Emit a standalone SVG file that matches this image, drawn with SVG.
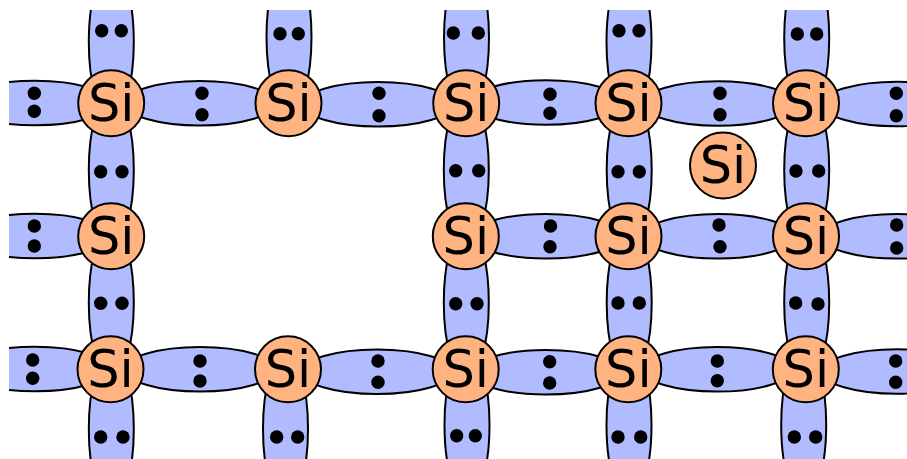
<svg xmlns="http://www.w3.org/2000/svg" width="907" height="459" viewBox="0 0 907 459">
<style>
.b{fill:#b0bcff;stroke:#000;stroke-width:2}
.a circle{fill:#ffb380;stroke:#000;stroke-width:2}
.a text{font-family:"DejaVu Sans",sans-serif;font-size:51px;text-anchor:middle;fill:#000}
.e circle{fill:#000}
</style>
<defs><clipPath id="c"><rect x="9" y="10" width="898" height="449"/></clipPath></defs>
<g id="connectors" clip-path="url(#c)">
<ellipse class="b" cx="111.300" cy="42" rx="22.500" ry="76"/><ellipse class="b" cx="289" cy="37" rx="22.500" ry="76"/><ellipse class="b" cx="466.500" cy="38" rx="22.500" ry="76"/><ellipse class="b" cx="629" cy="42" rx="22.500" ry="76"/><ellipse class="b" cx="806.700" cy="38" rx="22.500" ry="76"/>
<ellipse class="b" cx="111.300" cy="170" rx="22.500" ry="76"/><ellipse class="b" cx="466.300" cy="170" rx="22.500" ry="76"/><ellipse class="b" cx="629.200" cy="170" rx="22.500" ry="76"/><ellipse class="b" cx="806.700" cy="170" rx="22.500" ry="76"/>
<ellipse class="b" cx="111.300" cy="302.500" rx="22.500" ry="76"/><ellipse class="b" cx="466.300" cy="302.500" rx="22.500" ry="76"/><ellipse class="b" cx="629.200" cy="302.500" rx="22.500" ry="76"/><ellipse class="b" cx="806.700" cy="302.500" rx="22.500" ry="76"/>
<ellipse class="b" cx="111.300" cy="429" rx="22.500" ry="76"/><ellipse class="b" cx="285.500" cy="429" rx="22.500" ry="76"/><ellipse class="b" cx="467" cy="425" rx="22.500" ry="76"/><ellipse class="b" cx="629" cy="425" rx="22.500" ry="76"/><ellipse class="b" cx="803.700" cy="425" rx="22.500" ry="76"/>
<ellipse class="b" cx="35" cy="103" rx="75" ry="22.300"/><ellipse class="b" cx="200" cy="103.300" rx="75" ry="22.300"/><ellipse class="b" cx="378" cy="104.300" rx="75" ry="22.300"/><ellipse class="b" cx="546" cy="102.500" rx="75" ry="22.300"/><ellipse class="b" cx="718" cy="103.500" rx="75" ry="22.300"/><ellipse class="b" cx="897" cy="104" rx="75" ry="22.300"/>
<ellipse class="b" cx="35" cy="236" rx="75" ry="22.300"/><ellipse class="b" cx="546" cy="236.200" rx="75" ry="22.300"/><ellipse class="b" cx="718" cy="236.300" rx="75" ry="22.300"/><ellipse class="b" cx="897" cy="236.300" rx="75" ry="22.300"/>
<ellipse class="b" cx="35" cy="369" rx="75" ry="22.300"/><ellipse class="b" cx="200" cy="369.300" rx="75" ry="22.300"/><ellipse class="b" cx="377" cy="371.700" rx="75" ry="22.300"/><ellipse class="b" cx="546" cy="372.300" rx="75" ry="22.300"/><ellipse class="b" cx="717" cy="369.300" rx="75" ry="22.300"/><ellipse class="b" cx="897" cy="371.500" rx="75" ry="22.300"/>
</g>
<g id="electrons" class="e">
<circle cx="101.700" cy="30.700" r="6.700"/><circle cx="121.300" cy="30.700" r="6.700"/><circle cx="280" cy="33.700" r="6.700"/><circle cx="298.300" cy="33.700" r="6.700"/><circle cx="453.300" cy="33" r="6.700"/><circle cx="478.300" cy="33" r="6.700"/><circle cx="619" cy="30.700" r="6.700"/><circle cx="639" cy="30.700" r="6.700"/><circle cx="797.300" cy="34" r="6.700"/><circle cx="816.700" cy="34" r="6.700"/>
<circle cx="100.700" cy="171.700" r="6.700"/><circle cx="122" cy="171.700" r="6.700"/><circle cx="455.700" cy="170.700" r="6.700"/><circle cx="478.700" cy="170.700" r="6.700"/><circle cx="618" cy="171.700" r="6.700"/><circle cx="639.300" cy="171.700" r="6.700"/><circle cx="796" cy="171" r="6.700"/><circle cx="818.700" cy="171" r="6.700"/>
<circle cx="100.700" cy="303.300" r="6.700"/><circle cx="122" cy="303.300" r="6.700"/><circle cx="455.700" cy="303.700" r="6.700"/><circle cx="477" cy="303.700" r="6.700"/><circle cx="618" cy="303" r="6.700"/><circle cx="639.300" cy="303" r="6.700"/><circle cx="795.700" cy="303" r="6.700"/><circle cx="818" cy="304" r="6.700"/>
<circle cx="100.700" cy="437" r="6.700"/><circle cx="123" cy="437" r="6.700"/><circle cx="276.700" cy="437" r="6.700"/><circle cx="297.700" cy="437" r="6.700"/><circle cx="456.700" cy="435.700" r="6.700"/><circle cx="475.300" cy="435.700" r="6.700"/><circle cx="618" cy="437" r="6.700"/><circle cx="640.700" cy="437" r="6.700"/><circle cx="794.300" cy="437" r="6.700"/><circle cx="815.700" cy="437" r="6.700"/>
<circle cx="34.300" cy="93.300" r="6.700"/><circle cx="34.300" cy="111.300" r="6.700"/><circle cx="202" cy="93.300" r="6.700"/><circle cx="202" cy="114.700" r="6.700"/><circle cx="379" cy="93.300" r="6.700"/><circle cx="379" cy="115.700" r="6.700"/><circle cx="550" cy="94.300" r="6.700"/><circle cx="550" cy="113.300" r="6.700"/><circle cx="720" cy="93.300" r="6.700"/><circle cx="720" cy="114.700" r="6.700"/><circle cx="896.300" cy="93.300" r="6.700"/><circle cx="896.300" cy="115.700" r="6.700"/>
<circle cx="34.300" cy="226" r="6.700"/><circle cx="34.300" cy="246" r="6.700"/><circle cx="550.500" cy="226" r="6.700"/><circle cx="550" cy="246.700" r="6.700"/><circle cx="719" cy="225" r="6.700"/><circle cx="720" cy="246.700" r="6.700"/><circle cx="896.700" cy="225" r="6.700"/><circle cx="896.700" cy="248" r="6.700"/>
<circle cx="32.700" cy="360" r="6.700"/><circle cx="32.700" cy="378.300" r="6.700"/><circle cx="200" cy="361" r="6.700"/><circle cx="200" cy="381" r="6.700"/><circle cx="378" cy="361" r="6.700"/><circle cx="378" cy="382.300" r="6.700"/><circle cx="549.700" cy="361.700" r="6.700"/><circle cx="549.700" cy="383" r="6.700"/><circle cx="717.300" cy="361" r="6.700"/><circle cx="717.300" cy="380.700" r="6.700"/><circle cx="895.700" cy="361" r="6.700"/><circle cx="895.700" cy="382.300" r="6.700"/>
</g>
<g id="si1" class="a"><circle cx="111.200" cy="103.300" r="33"/><text x="111.200" y="121">Si</text></g>
<g id="si2" class="a"><circle cx="288.500" cy="103.300" r="33"/><text x="288.500" y="121">Si</text></g>
<g id="si3" class="a"><circle cx="466.200" cy="103.300" r="33"/><text x="466.200" y="121">Si</text></g>
<g id="si4" class="a"><circle cx="628.500" cy="103.300" r="33"/><text x="628.500" y="121">Si</text></g>
<g id="si5" class="a"><circle cx="806" cy="103.300" r="33"/><text x="806" y="121">Si</text></g>
<g id="si6" class="a"><circle cx="723" cy="165.500" r="33"/><text x="723" y="183">Si</text></g>
<g id="si7" class="a"><circle cx="111.200" cy="236.300" r="33"/><text x="111.200" y="254">Si</text></g>
<g id="si8" class="a"><circle cx="465.800" cy="236.300" r="33"/><text x="465.800" y="254">Si</text></g>
<g id="si9" class="a"><circle cx="628.500" cy="236.300" r="33"/><text x="628.500" y="254">Si</text></g>
<g id="si10" class="a"><circle cx="806" cy="236.300" r="33"/><text x="806" y="254">Si</text></g>
<g id="si11" class="a"><circle cx="110.500" cy="369.300" r="33"/><text x="110.500" y="387">Si</text></g>
<g id="si12" class="a"><circle cx="288" cy="369.300" r="33"/><text x="288" y="387">Si</text></g>
<g id="si13" class="a"><circle cx="465.700" cy="369.300" r="33"/><text x="465.700" y="387">Si</text></g>
<g id="si14" class="a"><circle cx="628.300" cy="369.300" r="33"/><text x="628.300" y="387">Si</text></g>
<g id="si15" class="a"><circle cx="805.800" cy="369.300" r="33"/><text x="805.800" y="387">Si</text></g>
</svg>
